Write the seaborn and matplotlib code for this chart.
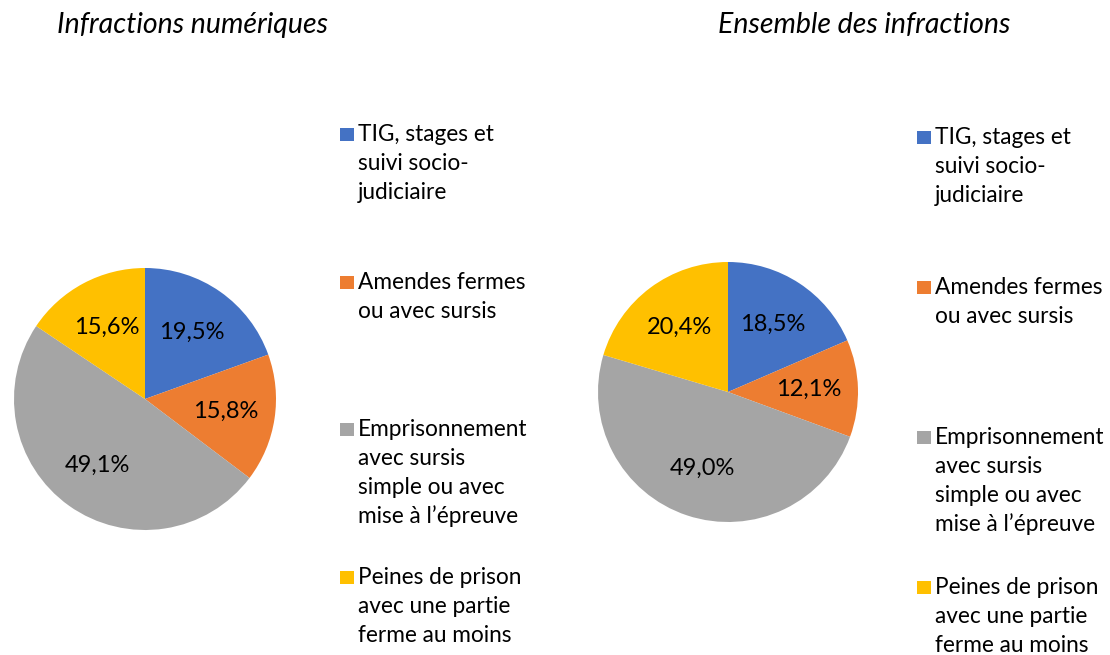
import matplotlib
matplotlib.use("Agg")
import matplotlib.pyplot as plt
from matplotlib.patches import Rectangle
import seaborn as sns

# data
categories = [
    "TIG, stages et\nsuivi socio-\njudiciaire",
    "Amendes fermes\nou avec sursis",
    "Emprisonnement\navec sursis\nsimple ou avec\nmise à l\u2019épreuve",
    "Peines de prison\navec une partie\nferme au moins",
]
titles = ["Infractions numériques", "Ensemble des infractions"]
vals_num = [19.5, 15.8, 49.1, 15.6]
vals_all = [18.5, 12.1, 49.0, 20.4]

sns.set_theme(style="white")
plt.rcParams["font.family"] = ["Lato", "DejaVu Sans"]
colors = sns.color_palette(["#4472C4", "#ED7D31", "#A5A5A5", "#FFC000"])

W, H = 1110, 655
fig = plt.figure(figsize=(W / 100, H / 100), dpi=100)


def px(x, y):
    return x / W, 1 - y / H


# pie centre, radius, title x, legend square x, legend first baseline, entry step
layouts = [
    dict(cx=145, cy=399, r=131, tx=57, lx=340, ly=141, step=147.7),
    dict(cx=728, cy=392, r=130, tx=718, lx=917, ly=144, step=150.0),
]

for vals, title, lay in zip([vals_num, vals_all], titles, layouts):
    r = lay["r"]
    ax = fig.add_axes([(lay["cx"] - r) / W, (H - lay["cy"] - r) / H, 2 * r / W, 2 * r / H])
    wedges, texts, autotexts = ax.pie(
        vals, colors=colors, startangle=90, counterclock=False,
        autopct=lambda p: f"{p:.1f}%".replace(".", ","), pctdistance=0.62,
        wedgeprops=dict(linewidth=0),
        textprops=dict(fontsize=17, color="black"),
    )
    ax.set_xlim(-1, 1)
    ax.set_ylim(-1, 1)
    ax.axis("off")

    fig.text(*px(lay["tx"], 33), title, fontsize=20.5, style="italic",
             color="black", va="baseline", ha="left")

    for i, (lab, col) in enumerate(zip(categories, colors)):
        base = lay["ly"] + i * lay["step"]
        sx, sy = px(lay["lx"], base)
        fig.patches.append(Rectangle((sx, sy), 14 / W, 13 / H, transform=fig.transFigure,
                                     facecolor=col, edgecolor="none"))
        for j, line in enumerate(lab.split("\n")):
            fig.text(*px(lay["lx"] + 18, base + j * 29), line, fontsize=16.3,
                     color="black", va="baseline", ha="left")

fig.savefig("out.png", dpi=100)
